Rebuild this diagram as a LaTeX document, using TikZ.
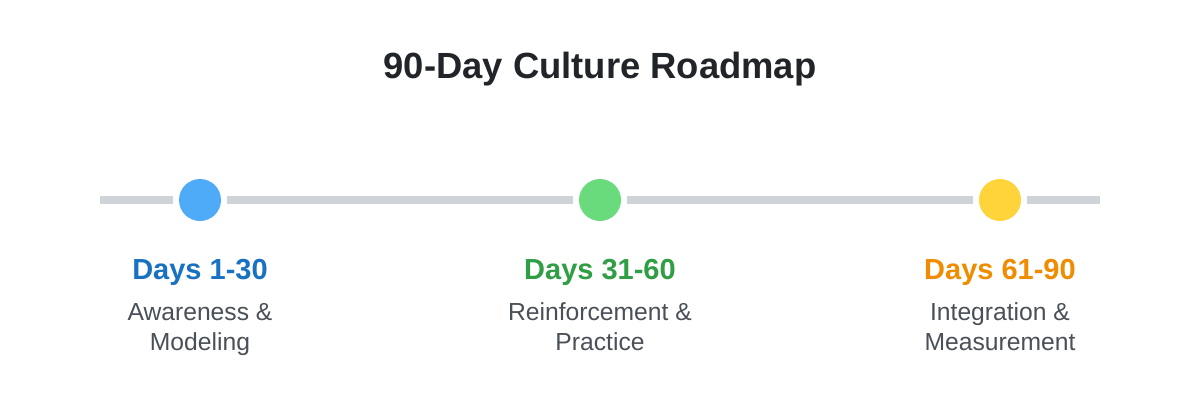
\documentclass[tikz,border=0pt]{standalone}
\usepackage{fontspec}
\setmainfont{Liberation Sans}

\definecolor{trackGray}{HTML}{CED4DA}
\definecolor{dotBlue}{HTML}{4DABF7}
\definecolor{dotGreen}{HTML}{69DB7C}
\definecolor{dotYellow}{HTML}{FFD43B}
\definecolor{daysBlue}{HTML}{1971C2}
\definecolor{daysGreen}{HTML}{2F9E44}
\definecolor{daysOrange}{HTML}{F08C00}
\definecolor{descGray}{HTML}{495057}
\definecolor{titleDark}{HTML}{212529}

\tikzset{every picture/.style={line width=0.75pt}}
\tikzset{
  milestone/.style={circle, fill=#1, draw=none, minimum size=31.5pt, inner sep=0pt, outer sep=4.5pt},
  track/.style={draw=trackGray, line width=6pt},
  phase/.style={anchor=base, inner sep=0.75pt, font=\fontsize{21.75}{26}\selectfont\bfseries, text=#1},
  desc/.style={anchor=base, inner sep=0.75pt, font=\fontsize{18.5}{22.5}\selectfont, text=descGray, align=center}
}

\begin{document}
\begin{tikzpicture}[x=0.75pt,y=0.75pt,yscale=-1,xscale=1]
\path[use as bounding box, fill=white] (0,0) rectangle (1200,400); %set diagram 1200 x 400

% Title
\draw (600,78) node [anchor=base, font=\fontsize{27.3}{32}\selectfont\bfseries, text=titleDark] (title) {90-Day Culture Roadmap};

%Milestones
\node [milestone=dotBlue] (m1) at (200,200) {};
\node [milestone=dotGreen] (m2) at (600,200) {};
\node [milestone=dotYellow] (m3) at (1000,200) {};
\coordinate (startT) at (100,200);
\coordinate (endT) at (1100,200);

%Straight Lines
\draw [track] (startT) -- (m1);
\draw [track] (m1) -- (m2);
\draw [track] (m2) -- (m3);
\draw [track] (m3) -- (endT);

% Text Node
\draw (200,279) node [phase=daysBlue] (d1) {Days 1-30};
\draw (600,279) node [phase=daysGreen] (d2) {Days 31-60};
\draw (1000,279) node [phase=daysOrange] (d3) {Days 61-90};
% Text Node (base = last line)
\draw (200,350) node [desc] (t1) {Awareness \&\\Modeling};
\draw (600,350) node [desc] (t2) {Reinforcement \&\\Practice};
\draw (1000,350) node [desc] (t3) {Integration \&\\Measurement};

\end{tikzpicture}
\end{document}
